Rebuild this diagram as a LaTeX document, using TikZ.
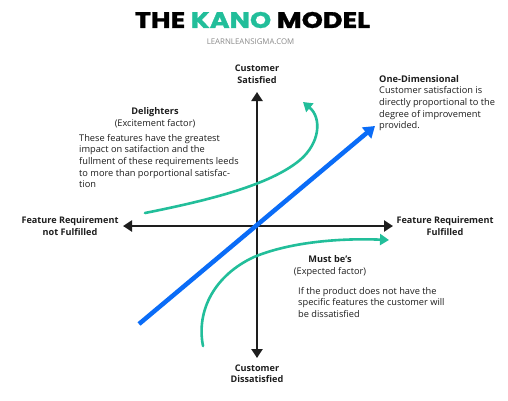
\documentclass[tikz,border=0pt]{standalone}
\usepackage{fontspec}
\setmainfont{Open Sans}
\newfontfamily\titlefont{Poppins}[BoldFeatures={FakeBold=1.2}]
\usetikzlibrary{arrows.meta}
\definecolor{kteal}{HTML}{22BE9A}
\definecolor{kblue}{HTML}{0A6CF7}
\definecolor{kblack}{HTML}{1E1E1E}
\definecolor{kgray}{HTML}{8A8A8A}
\tikzset{
  axis/.style={draw=kblack, line width=2.8pt, -{Triangle[length=9pt,width=11pt]}},
  curve/.style={draw=kteal, line width=2.6pt, line cap=round, -{Triangle[length=9pt,width=11pt]}},
  oned/.style={draw=kblue, line width=4.5pt, -{Triangle[length=11pt,width=14pt]}},
  axlabel/.style={font=\fontsize{9.1}{11.5}\selectfont\bfseries, text=kblack, align=center, inner sep=0pt},
  head/.style={font=\fontsize{9.2}{12}\selectfont, text=kblack, align=center, inner sep=0pt},
  para/.style={font=\fontsize{9.25}{11.65}\selectfont, text=kblack, align=left, inner sep=0pt},
}
\begin{document}
\begin{tikzpicture}[x=1pt,y=-1pt]
\useasboundingbox[fill=white] (0,0) rectangle (508,400);
% title
\node[inner sep=0pt, xscale=1.2, font=\titlefont\fontsize{22.5}{24}\selectfont\bfseries] (title) at (252.5,20) {THE \textcolor{kteal}{KANO} MODEL};
\node[inner sep=0pt, font=\fontsize{7.85}{8}\selectfont, text=kgray] (site) at (250.5,42) {LEARNLEANSIGMA.COM};
% axes
\coordinate (O) at (257,226);
\coordinate (yt) at (257,92);
\coordinate (yb) at (257,358);
\coordinate (xl) at (123,226);
\coordinate (xr) at (393,226);
\draw[axis] (O) -- (yt);
\draw[axis] (O) -- (yb);
\draw[axis] (O) -- (xl);
\draw[axis] (O) -- (xr);
% axis labels
\node[axlabel] (sat) at (257,74) {Customer\\Satisfied};
\node[axlabel] (dis) at (257,373.5) {Customer\\Dissatisfied};
\node[axlabel] (nf) at (70,226) {Feature Requirement\\not Fulfilled};
\node[axlabel] (ff) at (445,226) {Feature Requirement\\Fulfilled};
% one-dimensional
\coordinate (b1) at (139,324);
\coordinate (b2) at (375,126);
\draw[oned] (b1) -- (b2);
% delighters curve
\coordinate (d1) at (145,213);
\coordinate (d2) at (300,160);
\coordinate (d3) at (303,102);
\draw[curve] (d1) .. controls (210,200) and (270,185) .. (d2) .. controls (320,143) and (322,118) .. (d3);
% must be curve
\coordinate (m1) at (203,346);
\coordinate (m2) at (254,257);
\coordinate (m3) at (389,240);
\draw[curve] (m1) .. controls (196,310) and (215,275) .. (m2) .. controls (290,242) and (340,238) .. (m3);
% texts
\node[head] (dh) at (155,118) {\textbf{Delighters}\\(Excitement factor)};
\node[para, anchor=north west] (dp) at (79,134) {These features have the greatest\\impact on satifaction and the\\fullment of these requirements leeds\\to more than porportional satisfac-\\tion};
\node[para, anchor=north west] (op) at (379,75) {\textbf{One-Dimensional}\\Customer satisfaction is\\directly proportional to the\\degree of improvement\\provided.};
\node[head] (mh) at (330,266.5) {\textbf{Must be’s}\\(Expected factor)};
\node[para, anchor=north west] (mp) at (298,287) {If the product does not have the\\specific features the customer will\\be dissatisfied};
\end{tikzpicture}
\end{document}
